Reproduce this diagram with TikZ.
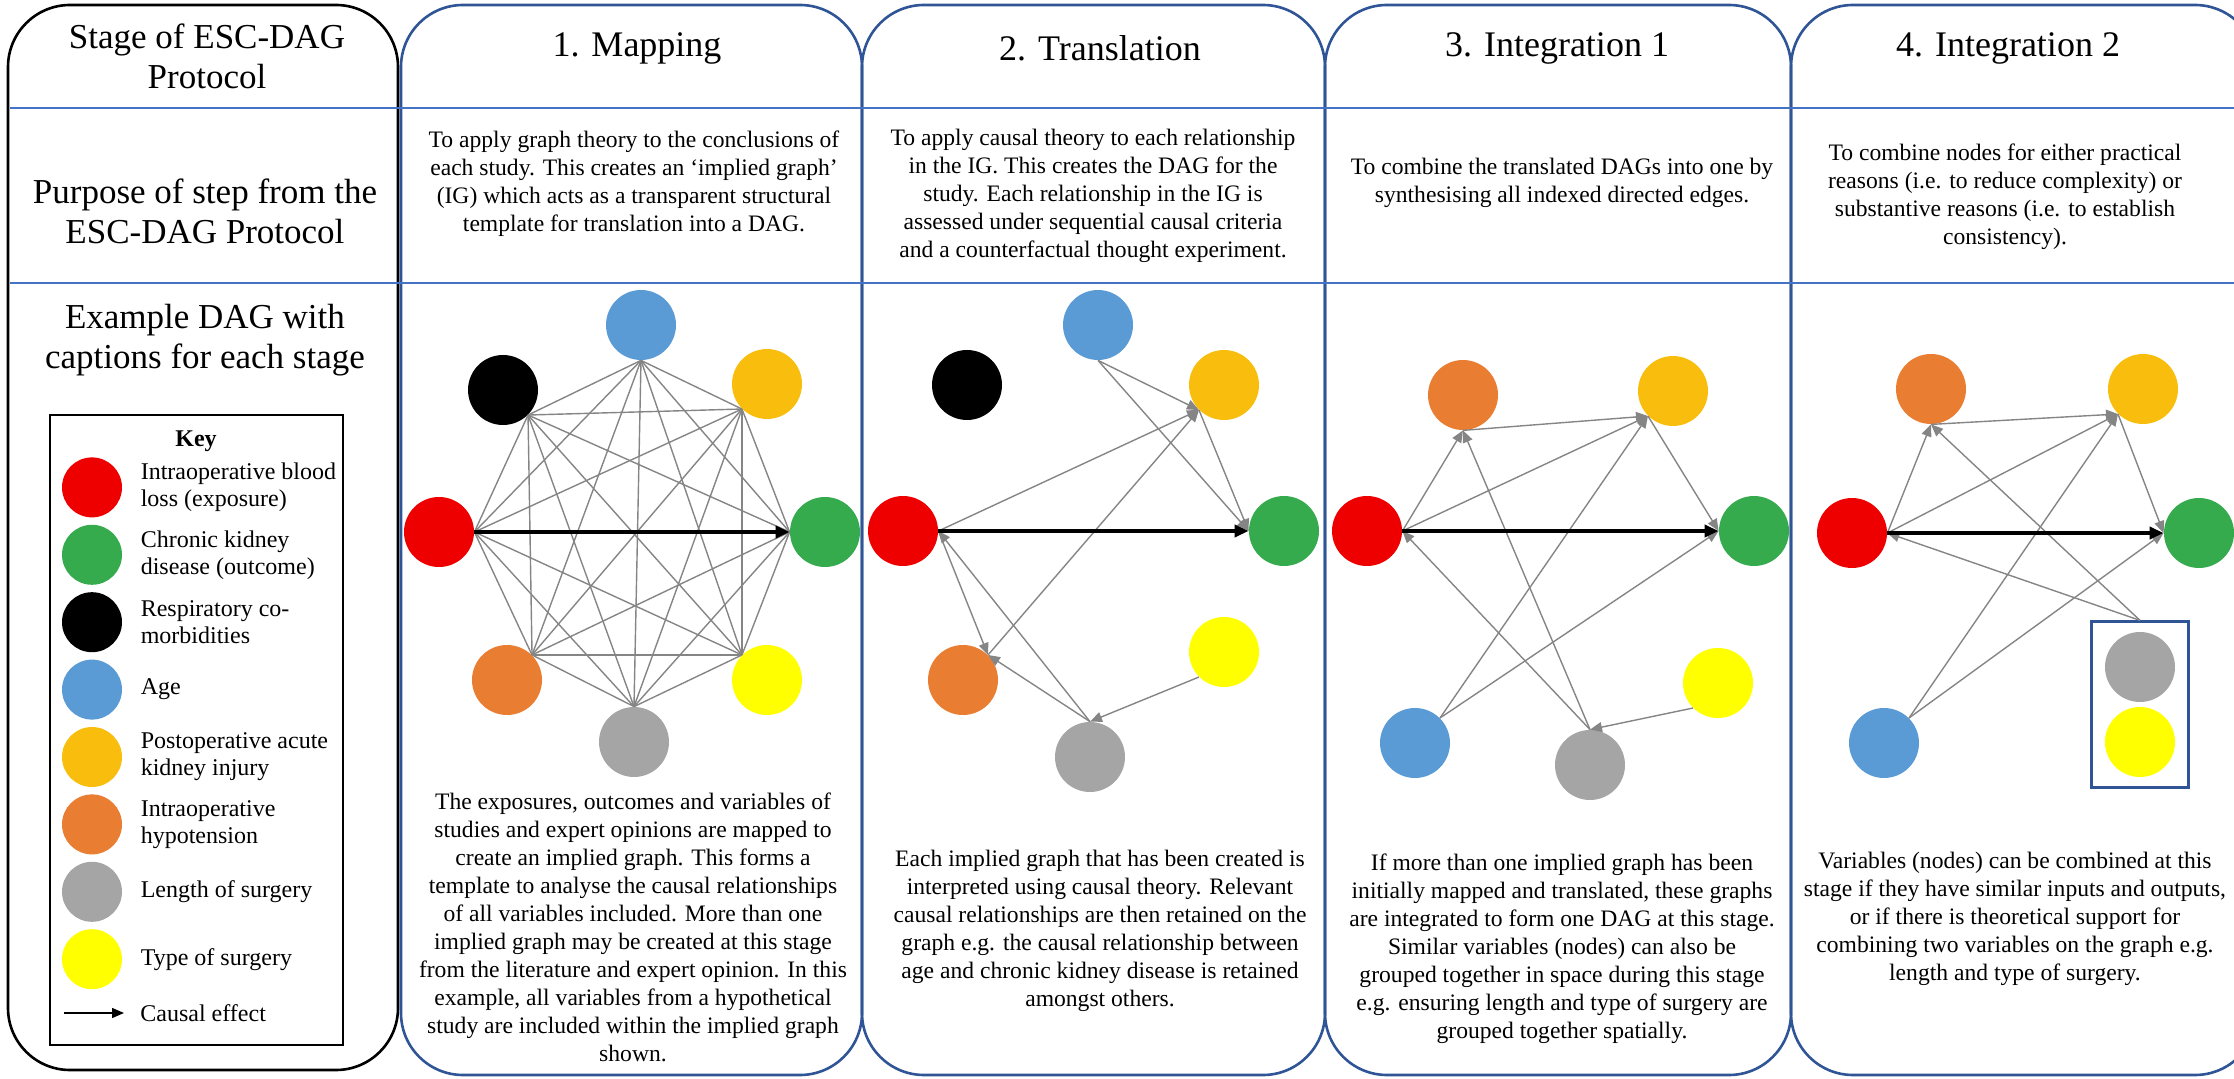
\documentclass[tikz,border=0pt]{standalone}
\usepackage{fontspec}
\setmainfont{Liberation Serif}
\newfontfamily\headfont{Liberation Serif}
\usetikzlibrary{arrows.meta,fit,positioning}

% variable colours
\definecolor{colbox}{HTML}{2F5597}
\definecolor{rowline}{HTML}{4472C4}
\definecolor{cIBL}{HTML}{EE0000}
\definecolor{cCKD}{HTML}{35AB4E}
\definecolor{cAge}{HTML}{5B9BD5}
\definecolor{cAKI}{HTML}{F9BE0D}
\definecolor{cHyp}{HTML}{E97D31}
\definecolor{cLoS}{HTML}{A5A5A5}
\definecolor{cToS}{HTML}{FFFF00}
\definecolor{edgegrey}{HTML}{858585}

\tikzset{
  var/.style={circle,minimum size=35pt,inner sep=0pt},
  keyvar/.style={circle,minimum size=30pt,inner sep=0pt},
  edge/.style={draw=edgegrey,line width=0.7pt},
  dir/.style={edge,-{Triangle[length=6pt,width=5pt]}},
  causal/.style={line width=1.9pt,-{Triangle[length=7pt,width=6pt]}},
  heading/.style={font=\headfont\fontsize{17.5}{20}\selectfont,align=center},
  title/.style={font=\headfont\fontsize{18}{21}\selectfont},
  desc/.style={font=\fontsize{11.8}{14}\selectfont,align=center},
  keytext/.style={font=\fontsize{12}{13.5}\selectfont,align=left,inner sep=0pt},
}

\begin{document}
\begin{tikzpicture}[x=0.5pt,y=-0.5pt]
\useasboundingbox (0,0) rectangle (2234,1079);
\clip (0,0) rectangle (2234,1079);

% the columns of the table
\draw[line width=1.3pt,rounded corners=31pt] (8,5) rectangle (398,1070);
\foreach \xl/\xr in {401/862,862/1325,1325/1791,1791/2257}
  \draw[colbox,line width=1.3pt,rounded corners=31pt] (\xl,5) rectangle (\xr,1075);
% the row separators
\foreach \y in {108,283}
  \draw[rowline,line width=1.2pt] (10,\y) -- (2234,\y);

% row headings
\node[heading] (stagehd) at (207,56) {Stage of ESC-DAG\\Protocol};
\node[heading] (purposehd) at (205,211) {Purpose of step from the\\ESC-DAG Protocol};
\node[heading] (examplehd) at (205,340) {Example DAG with\\captions for each stage};

% stage titles
\node[title] (maptitle) at (637,48) {1. Mapping};
\node[title] (transtitle) at (1100,48) {2. Translation};
\node[title] (inttitle) at (1557,48) {3. Integration 1};
\node[title] (combtitle) at (2008,48) {4. Integration 2};

% purpose of each stage
\node[desc] (mappurp) at (634,184) {To apply graph theory to the conclusions of\\each study. This creates an `implied graph'\\(IG) which acts as a transparent structural\\template for translation into a DAG.};
\node[desc] (transpurp) at (1093,196) {To apply causal theory to each relationship\\in the IG. This creates the DAG for the\\study. Each relationship in the IG is\\assessed under sequential causal criteria\\and a counterfactual thought experiment.};
\node[desc] (intpurp) at (1562,183) {To combine the translated DAGs into one by\\synthesising all indexed directed edges.};
\node[desc] (combpurp) at (2005,197) {To combine nodes for either practical\\reasons (i.e. to reduce complexity) or\\substantive reasons (i.e. to establish\\consistency).};

% the key
\draw[line width=1pt] (50,415) rectangle (343,1045);
\node[font=\bfseries\fontsize{12}{14}\selectfont] (keyhd) at (196,441) {Key};
\foreach \col/\txt [count=\i] in {
    cIBL/{Intraoperative blood\\loss (exposure)},
    cCKD/{Chronic kidney\\disease (outcome)},
    black/{Respiratory co-\\morbidities},
    cAge/{Age},
    cAKI/{Postoperative acute\\kidney injury},
    cHyp/{Intraoperative\\hypotension},
    cLoS/{Length of surgery},
    cToS/{Type of surgery}}
{
  \node[keyvar,fill=\col] (key\i) at (92,{420+67.4*\i}) {};
  \node[keytext,right=9pt of key\i] (keytxt\i) {\txt};
}
\coordinate (keyarra) at (64,1013);
\coordinate (keyarrb) at (124,1013);
\draw[line width=0.7pt,-{Triangle[length=6pt,width=5pt]}] (keyarra) -- (keyarrb);
\node[keytext,anchor=west] (keytxt9) at (140,1013) {Causal effect};

% 1. mapping: every pair of variables joined
\node[var,fill=cIBL] (m-ibl) at (439,532) {};
\node[var,fill=cCKD] (m-ckd) at (825,532) {};
\node[var,fill=cAge] (m-age) at (641,325) {};
\node[var,fill=black] (m-resp) at (503,390) {};
\node[var,fill=cAKI] (m-aki) at (767,384) {};
\node[var,fill=cHyp] (m-hyp) at (507,680) {};
\node[var,fill=cToS] (m-tos) at (767,680) {};
\node[var,fill=cLoS] (m-los) at (634,742) {};
\coordinate (m1) at (m-ibl.east);
\coordinate (m2) at (m-ckd.west);
\coordinate (m3) at (m-age.south);
\coordinate (m4) at (m-resp.south east);
\coordinate (m5) at (m-aki.south west);
\coordinate (m6) at (m-hyp.north east);
\coordinate (m7) at (m-tos.north west);
\coordinate (m8) at (m-los.north);
\foreach \i in {1,...,7}{
  \pgfmathtruncatemacro{\nxt}{\i+1}
  \foreach \j in {\nxt,...,8}{
    \ifnum\i\j=12\else\draw[edge] (m\i) -- (m\j);\fi
  }
}
\draw[causal] (m1) -- (m2);

% 2. translation
\node[var,fill=cIBL] (t-ibl) at (903,531) {};
\node[var,fill=cCKD] (t-ckd) at (1284,531) {};
\node[var,fill=cAge] (t-age) at (1098,325) {};
\node[var,fill=black] (t-resp) at (967,385) {};
\node[var,fill=cAKI] (t-aki) at (1224,385) {};
\node[var,fill=cHyp] (t-hyp) at (963,680) {};
\node[var,fill=cToS] (t-tos) at (1224,652) {};
\node[var,fill=cLoS] (t-los) at (1090,757) {};
\draw[dir] (t-age.south) -- (t-aki.south west);
\draw[dir] (t-age.south) -- (t-ckd.west);
\draw[dir] (t-ibl.east) -- (t-aki.south west);
\draw[dir] (t-hyp.north east) -- (t-aki.south west);
\draw[dir] (t-aki.south west) -- (t-ckd.west);
\draw[dir] (t-ibl.east) -- (t-hyp.north east);
\draw[dir] (t-los.north) -- (t-ibl.east);
\draw[dir] (t-los.north) -- (t-hyp.north east);
\draw[dir] (t-tos.south west) -- (t-los.north);
\draw[causal] (t-ibl.east) -- (t-ckd.west);

% 3. integration 1
\node[var,fill=cIBL] (i-ibl) at (1367,531) {};
\node[var,fill=cCKD] (i-ckd) at (1754,531) {};
\node[var,fill=cHyp] (i-hyp) at (1463,395) {};
\node[var,fill=cAKI] (i-aki) at (1673,391) {};
\node[var,fill=cAge] (i-age) at (1415,743) {};
\node[var,fill=cLoS] (i-los) at (1590,765) {};
\node[var,fill=cToS] (i-tos) at (1718,683) {};
\draw[dir] (i-hyp.south) -- (i-aki.south west);
\draw[dir] (i-ibl.east) -- (i-hyp.south);
\draw[dir] (i-ibl.east) -- (i-aki.south west);
\draw[dir] (i-los.north) -- (i-ibl.east);
\draw[dir] (i-los.north) -- (i-hyp.south);
\draw[dir] (i-age.north east) -- (i-aki.south west);
\draw[dir] (i-age.north east) -- (i-ckd.west);
\draw[dir] (i-aki.south west) -- (i-ckd.west);
\draw[dir] (i-tos.south west) -- (i-los.north);
\draw[causal] (i-ibl.east) -- (i-ckd.west);

% 4. integration 2: length and type of surgery combined
\node[var,fill=cIBL] (q-ibl) at (1852,533) {};
\node[var,fill=cCKD] (q-ckd) at (2199,533) {};
\node[var,fill=cHyp] (q-hyp) at (1931,389) {};
\node[var,fill=cAKI] (q-aki) at (2143,389) {};
\node[var,fill=cAge] (q-age) at (1884,743) {};
\node[var,fill=cLoS] (q-los) at (2140,667) {};
\node[var,fill=cToS] (q-tos) at (2140,742) {};
\node[draw=colbox,line width=1.2pt,inner xsep=6.5pt,inner ysep=5pt,fit=(q-los)(q-tos)] (q-surg) {};
\draw[dir] (q-hyp.south) -- (q-aki.south west);
\draw[dir] (q-ibl.east) -- (q-hyp.south);
\draw[dir] (q-ibl.east) -- (q-aki.south west);
\draw[dir] (q-surg.north) -- (q-ibl.east);
\draw[dir] (q-surg.north) -- (q-hyp.south);
\draw[dir] (q-age.north east) -- (q-aki.south west);
\draw[dir] (q-age.north east) -- (q-ckd.west);
\draw[dir] (q-aki.south west) -- (q-ckd.west);
\draw[causal] (q-ibl.east) -- (q-ckd.west);

% captions for each stage
\node[desc] (mapcap) at (633,927) {The exposures, outcomes and variables of\\studies and expert opinions are mapped to\\create an implied graph. This forms a\\template to analyse the causal relationships\\of all variables included. More than one\\implied graph may be created at this stage\\from the literature and expert opinion. In this\\example, all variables from a hypothetical\\study are included within the implied graph\\shown.};
\node[desc] (transcap) at (1100,931) {Each implied graph that has been created is\\interpreted using causal theory. Relevant\\causal relationships are then retained on the\\graph e.g. the causal relationship between\\age and chronic kidney disease is retained\\amongst others.};
\node[desc] (intcap) at (1562,949) {If more than one implied graph has been\\initially mapped and translated, these graphs\\are integrated to form one DAG at this stage.\\Similar variables (nodes) can also be\\grouped together in space during this stage\\e.g. ensuring length and type of surgery are\\grouped together spatially.};
\node[desc] (combcap) at (2015,919) {Variables (nodes) can be combined at this\\stage if they have similar inputs and outputs,\\or if there is theoretical support for\\combining two variables on the graph e.g.\\length and type of surgery.};
\end{tikzpicture}
\end{document}
